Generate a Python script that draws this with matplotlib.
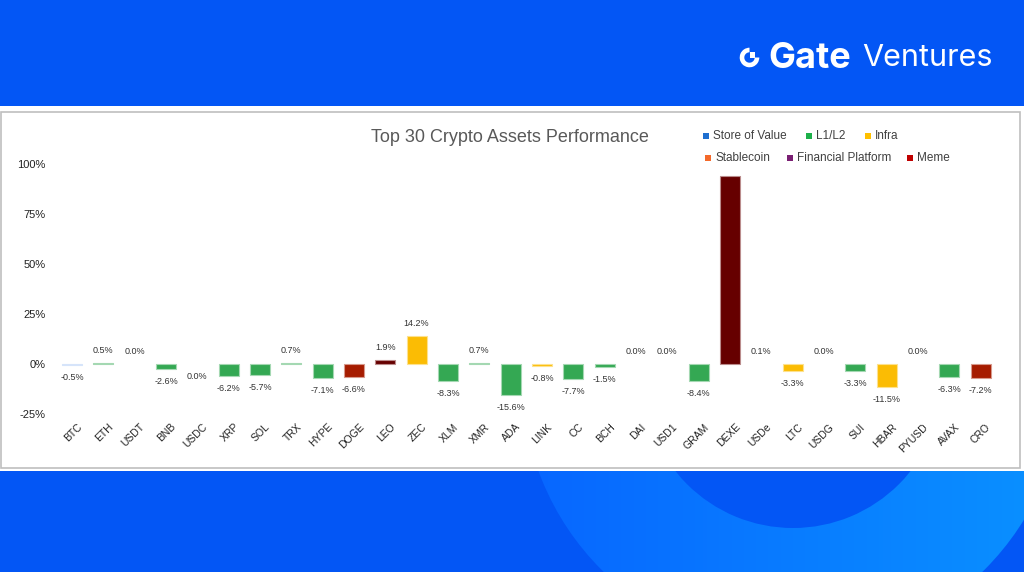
import numpy as np
import matplotlib
matplotlib.use("Agg")
import matplotlib.pyplot as plt
from matplotlib.patches import Rectangle, Wedge
from matplotlib.colors import LinearSegmentedColormap, to_rgb
import matplotlib.transforms as mtransforms

assets = ["BTC", "ETH", "USDT", "BNB", "USDC", "XRP", "SOL", "TRX", "HYPE", "DOGE",
          "LEO", "ZEC", "XLM", "XMR", "ADA", "LINK", "CC", "BCH", "DAI", "USD1",
          "GRAM", "DEXE", "USDe", "LTC", "USDG", "SUI", "HBAR", "PYUSD", "AVAX", "CRO"]
performance = [-0.5, 0.5, 0.0, -2.6, -0.0, -6.2, -5.7, 0.7, -7.1, -6.6,
               1.9, 14.2, -8.3, 0.7, -15.6, -0.8, -7.7, -1.5, 0.0, 0.0,
               -8.4, 94.0, 0.1, -3.3, 0.0, -3.3, -11.5, 0.0, -6.3, -7.2]
show_value = [a != "DEXE" for a in assets]
sectors = ["Store of Value", "L1/L2", "Stablecoin", "L1/L2", "Stablecoin", "L1/L2", "L1/L2", "L1/L2", "L1/L2", "Meme",
           "Financial Platform", "Infra", "L1/L2", "L1/L2", "L1/L2", "Infra", "L1/L2", "L1/L2", "Stablecoin", "Stablecoin",
           "L1/L2", "Financial Platform", "Stablecoin", "Infra", "Stablecoin", "L1/L2", "Infra", "Stablecoin", "L1/L2", "Meme"]
legend_labels = ["Store of Value", "L1/L2", "Infra", "Stablecoin", "Financial Platform", "Meme"]
yticks = [-25, 0, 25, 50, 75, 100]

bar_colors = {"Store of Value": "#A4C2F4", "L1/L2": "#34A853", "Infra": "#FBBC04",
              "Stablecoin": "#FF6D01", "Financial Platform": "#660000", "Meme": "#A61C00"}
legend_colors = {"Store of Value": "#1F6FD0", "L1/L2": "#1DB04A", "Infra": "#FFC000",
                 "Stablecoin": "#F4692A", "Financial Platform": "#7A1F73", "Meme": "#C00000"}

plt.rcParams['font.family'] = ['Liberation Sans', 'DejaVu Sans']

W, H = 1024, 572
fig = plt.figure(figsize=(W / 100, H / 100), dpi=100)

# ---- background (pixel coordinates) ----
bg = fig.add_axes([0, 0, 1, 1], zorder=-5)
bg.axis("off")
blue = "#0356F5"
bg.add_patch(Rectangle((0, 0), W, H, fc=blue, ec="none"))
cx, cy, r_out, r_in = 793, 378, 271, 150
grad = np.linspace(0, 1, 256).reshape(1, -1)
cmap = LinearSegmentedColormap.from_list("ring", ["#0766FF", "#0A92FF"])
im = bg.imshow(grad, cmap=cmap, extent=(cx - r_out, cx + r_out, cy + r_out, cy - r_out),
               aspect="auto", zorder=1)
ring = Wedge((cx, cy), r_out, 0, 360, width=r_out - r_in, transform=bg.transData)
im.set_clip_path(ring)
bg.set_xlim(0, W)
bg.set_ylim(H, 0)
bg.add_patch(Rectangle((0, 106), W, 365, fc="white", ec="none", zorder=2))
bg.add_patch(Rectangle((1, 112), 1019, 356, fc="white", ec="#BFBFBF", lw=1.2, zorder=3))

# logo
bg.add_patch(Wedge((749.5, 57.5), 9.8, 0, 270, width=4.6, fc="white", ec="none", zorder=4))
bg.add_patch(Rectangle((749.5, 51.5), 5.5, 6, fc="white", ec="none", zorder=4))
bg.text(768, 58, "Gate", fontsize=26, fontweight="bold", color="white",
        family=["Inter", "DejaVu Sans"], va="center", ha="left", zorder=4)
bg.text(862, 58, "Ventures", fontsize=22, color="white",
        family=["Inter", "DejaVu Sans"], va="center", ha="left", zorder=4)

# title
bg.text(510, 138, "Top 30 Crypto Assets Performance", fontsize=13, color="#595959",
        ha="center", va="center", zorder=4)

# legend (manual, two rows)
legend_pos = [(706, 136), (809, 136), (868, 136), (708, 158), (790, 158), (910, 158)]
for lab, (lx, ly) in zip(legend_labels, legend_pos):
    bg.add_patch(Rectangle((lx - 3, ly - 3), 6, 6, fc=legend_colors[lab], ec="none", zorder=4))
    bg.text(lx + 7, ly, lab, fontsize=8.5, color="#404040", ha="left", va="center", zorder=4)

# ---- main chart axes ----
x_left_px, x_step = 72, 31.33
ax_left = x_left_px - 0.5 * x_step
ax_right = x_left_px + 29.5 * x_step
ymin, ymax = -30, 105
zero_px, px_per = 364, 2.0
ax_bottom = zero_px - ymin * px_per
ax_top = zero_px - ymax * px_per
ax = fig.add_axes([ax_left / W, (H - ax_bottom) / H, (ax_right - ax_left) / W, (ax_bottom - ax_top) / H])
ax.patch.set_alpha(0)
x = np.arange(len(assets))
colors = [bar_colors[s] for s in sectors]
edges = [tuple(0.45 * np.array(to_rgb(c)) + 0.55) if abs(v) > 0.15 else "none"
         for c, v in zip(colors, performance)]
ax.bar(x, performance, width=0.64, color=colors, edgecolor=edges, linewidth=0.8, zorder=2)
ax.set_xlim(-0.5, len(assets) - 0.5)
ax.set_ylim(ymin, ymax)
for s in ax.spines.values():
    s.set_visible(False)
ax.set_yticks(yticks)
ax.set_yticklabels([f"{t}%" for t in yticks], fontsize=8, color="#222222")
ax.tick_params(axis="y", length=0, pad=8)
ax.set_xticks(x)
ax.set_xticklabels(assets, rotation=45, ha="right", rotation_mode="anchor", fontsize=7.5, color="#222222")
ax.tick_params(axis="x", length=0, pad=2)
offset = mtransforms.ScaledTranslation(5 / 100, 5 / 100, fig.dpi_scale_trans)
for lbl in ax.get_xticklabels():
    lbl.set_transform(lbl.get_transform() + offset)

for xi, v, show in zip(x, performance, show_value):
    if not show:
        continue
    neg = np.signbit(v)
    ax.annotate(f"{v + 0.0:.1f}%", (xi, v), xytext=(0, -9 if neg else 9), textcoords="offset points",
                ha="center", va="center", fontsize=6.5, color="#333333")

fig.savefig("out.png", dpi=100)
